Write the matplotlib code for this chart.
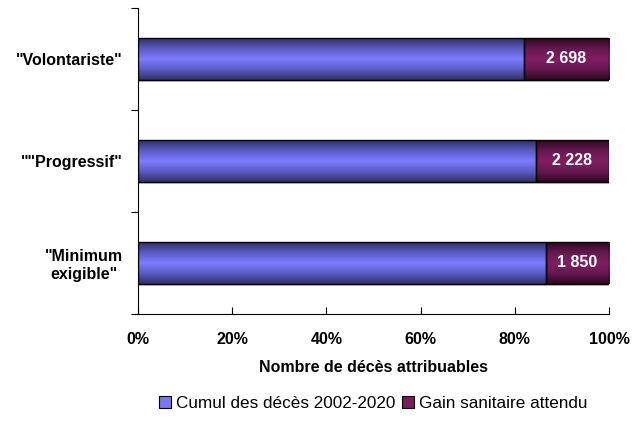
import numpy as np
import matplotlib.pyplot as plt
from matplotlib.patches import Patch
from matplotlib.colors import LinearSegmentedColormap

plt.rcParams['font.family'] = ['Liberation Sans', 'DejaVu Sans']

categories = ['"Minimum\nexigible"', '""Progressif"', '"Volontariste"']
cumul = [11950, 12150, 12200]
gain = [1850, 2228, 2698]
gain_labels = ['1 850', '2 228', '2 698']

cumul = np.array(cumul, dtype=float)
gain = np.array(gain, dtype=float)
total = cumul + gain
p_cumul = cumul / total
p_gain = gain / total

fig = plt.figure(figsize=(6.35, 4.28), dpi=100)
ax = fig.add_axes([0.2173, 0.2664, 0.7417, 0.7149])

y = np.arange(len(categories))
h = 0.41

blue_cm = LinearSegmentedColormap.from_list('b', ['#30306a', '#5c5cc4', '#7c7cff', '#5c5cc4', '#30306a'])
purp_cm = LinearSegmentedColormap.from_list('p', ['#300822', '#661850', '#821e62', '#661850', '#300822'])
grad = np.linspace(0, 1, 64).reshape(-1, 1)

# light drop shadow under the bars
ax.barh(y - 0.022, np.ones(len(y)), height=h, color='#d0d0d0', linewidth=0, zorder=2)

b1 = ax.barh(y, p_cumul, height=h, color='none', edgecolor='black', linewidth=1, zorder=4)
b2 = ax.barh(y, p_gain, left=p_cumul, height=h, color='none', edgecolor='black', linewidth=1, zorder=4)

for bars, cm in ((b1, blue_cm), (b2, purp_cm)):
    for r in bars:
        x0, y0 = r.get_x(), r.get_y()
        ax.imshow(grad, cmap=cm, vmin=0, vmax=1, aspect='auto', origin='lower',
                  extent=[x0, x0 + r.get_width(), y0, y0 + r.get_height()],
                  zorder=3, interpolation='bilinear')

for i in range(len(categories)):
    ax.text(p_cumul[i] + p_gain[i] / 2, y[i], gain_labels[i], color='white',
            ha='center', va='center', fontsize=11.5, fontweight='bold', zorder=5)

ax.set_xlim(0, 1)
ax.set_ylim(-0.5, len(categories) - 0.5)
ax.set_xticks(np.linspace(0, 1, 6))
ax.set_xticklabels(['0%', '20%', '40%', '60%', '80%', '100%'], fontsize=11.5, fontweight='bold')
ax.set_yticks(np.arange(len(categories) + 1) - 0.5)
ax.set_yticklabels([])
ax.set_yticks(y, minor=True)
ax.set_yticklabels(categories, minor=True, fontsize=11.5, fontweight='bold', ha='right',
                   multialignment='center')
ax.tick_params(axis='y', which='minor', length=0, pad=11)
ax.tick_params(axis='y', which='major', length=5, direction='out', width=0.8)
ax.tick_params(axis='x', length=5, direction='in', width=0.8, pad=13)
for s in ('top', 'right'):
    ax.spines[s].set_visible(False)
ax.set_xlabel('Nombre de décès attribuables', fontsize=11.5, fontweight='bold', labelpad=9)

handles = [Patch(facecolor='#7878f6', edgecolor='black', linewidth=0.8),
           Patch(facecolor='#7a1c5a', edgecolor='black', linewidth=0.8)]
fig.legend(handles, ['Cumul des décès 2002-2020', 'Gain sanitaire attendu'],
           loc='center', bbox_to_anchor=(0.588, 0.058), ncol=2, frameon=False,
           fontsize=12.3, handlelength=0.7, handleheight=0.7, handletextpad=0.3,
           columnspacing=0.4)

fig.savefig('out.png', dpi=100)
